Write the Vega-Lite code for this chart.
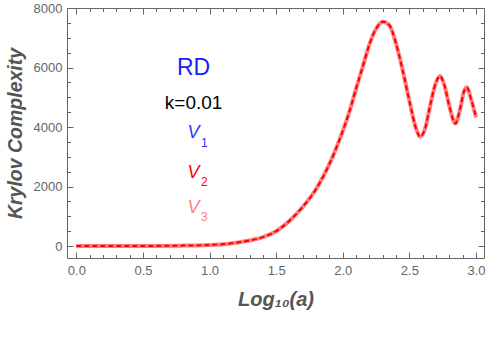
{
  "$schema": "https://vega.github.io/schema/vega-lite/v6.json",
  "width": 417,
  "height": 250,
  "autosize": {"type": "none"},
  "padding": {"left": 67, "top": 8, "right": 6, "bottom": 84},
  "config": {
    "view": {"stroke": "#666666", "strokeWidth": 1},
    "axis": {"domain": false, "grid": false, "labelFont": "Liberation Sans", "titleFont": "Liberation Sans", "tickColor": "#666666", "labelFlush": false, "labelOverlap": false}
  },
  "datasets": {
    "curve": [
      {"x": 0, "y": 0}, {"x": 0.2, "y": 1}, {"x": 0.4, "y": 3}, {"x": 0.6, "y": 7}, {"x": 0.8, "y": 16},
      {"x": 0.9, "y": 24}, {"x": 1.0, "y": 38}, {"x": 1.1, "y": 62}, {"x": 1.2, "y": 115}, {"x": 1.3, "y": 190},
      {"x": 1.4, "y": 300}, {"x": 1.5, "y": 500}, {"x": 1.6, "y": 850}, {"x": 1.7, "y": 1320}, {"x": 1.8, "y": 1920},
      {"x": 1.9, "y": 2760}, {"x": 2.0, "y": 3870}, {"x": 2.05, "y": 4520}, {"x": 2.1, "y": 5290}, {"x": 2.15, "y": 6030},
      {"x": 2.2, "y": 6780}, {"x": 2.25, "y": 7300}, {"x": 2.3, "y": 7540}, {"x": 2.35, "y": 7420}, {"x": 2.4, "y": 6800},
      {"x": 2.45, "y": 5900}, {"x": 2.5, "y": 4880}, {"x": 2.55, "y": 3950}, {"x": 2.58, "y": 3675}, {"x": 2.62, "y": 3980},
      {"x": 2.65, "y": 4600}, {"x": 2.7, "y": 5500}, {"x": 2.73, "y": 5714}, {"x": 2.76, "y": 5450}, {"x": 2.8, "y": 4700},
      {"x": 2.845, "y": 4120}, {"x": 2.88, "y": 4600}, {"x": 2.91, "y": 5200}, {"x": 2.93, "y": 5334}, {"x": 2.965, "y": 4908},
      {"x": 3.0, "y": 4326}
    ],
    "vlabels": [
      {"s": "V1", "x": 0.88, "y": 3800, "sub": "1", "xs": 0.935, "ys": 3480},
      {"s": "V2", "x": 0.88, "y": 2470, "sub": "2", "xs": 0.935, "ys": 2150},
      {"s": "V3", "x": 0.88, "y": 1290, "sub": "3", "xs": 0.935, "ys": 970}
    ]
  },
  "layer": [
    {
      "data": {"name": "curve"},
      "mark": {"type": "line", "color": "#2020ff", "strokeWidth": 2, "interpolate": "monotone"},
      "encoding": {
        "x": {"field": "x", "type": "quantitative", "scale": {"domain": [-0.07, 3.06], "nice": false, "zero": false},
          "axis": {"orient": "bottom", "values": [0, 0.1, 0.2, 0.3, 0.4, 0.5, 0.6, 0.7, 0.8, 0.9, 1, 1.1, 1.2, 1.3, 1.4, 1.5, 1.6, 1.7, 1.8, 1.9, 2, 2.1, 2.2, 2.3, 2.4, 2.5, 2.6, 2.7, 2.8, 2.9, 3],
            "labelExpr": "round(datum.value*10)%5==0 ? format(datum.value,'.1f') : ''",
            "tickSize": {"condition": {"test": "round(datum.value*10)%5==0", "value": -6}, "value": -3.5},
            "labelPadding": 12, "labelFontSize": 13, "labelColor": "#666666",
            "title": "Log₁₀(a)", "titleFontSize": 20, "titleFontStyle": "italic", "titleFontWeight": "bold", "titleColor": "#555555", "titlePadding": 10}},
        "y": {"field": "y", "type": "quantitative", "scale": {"domain": [-400, 8000], "nice": false, "zero": false},
          "axis": {"orient": "left", "values": [0, 500, 1000, 1500, 2000, 2500, 3000, 3500, 4000, 4500, 5000, 5500, 6000, 6500, 7000, 7500, 8000],
            "labelExpr": "datum.value%2000==0 ? format(datum.value,'d') : ''",
            "tickSize": {"condition": {"test": "datum.value%2000==0", "value": -6}, "value": -3.5},
            "labelPadding": 11, "labelFontSize": 13, "labelColor": "#666666",
            "title": "Krylov Complexity", "titleFontSize": 19.5, "titleFontStyle": "italic", "titleFontWeight": "bold", "titleColor": "#555555", "titlePadding": 8}}
      }
    },
    {
      "data": {"name": "curve"},
      "mark": {"type": "line", "color": "#ff7f7f", "strokeWidth": 4, "interpolate": "monotone"},
      "encoding": {
        "x": {"field": "x", "type": "quantitative", "scale": {"domain": [-0.07, 3.06], "nice": false, "zero": false},
          "axis": {"orient": "top", "values": [0, 0.1, 0.2, 0.3, 0.4, 0.5, 0.6, 0.7, 0.8, 0.9, 1, 1.1, 1.2, 1.3, 1.4, 1.5, 1.6, 1.7, 1.8, 1.9, 2, 2.1, 2.2, 2.3, 2.4, 2.5, 2.6, 2.7, 2.8, 2.9, 3],
            "labelExpr": "''",
            "tickSize": {"condition": {"test": "round(datum.value*10)%5==0", "value": -6}, "value": -3.5},
            "title": null}},
        "y": {"field": "y", "type": "quantitative", "scale": {"domain": [-400, 8000], "nice": false, "zero": false},
          "axis": {"orient": "right", "values": [0, 500, 1000, 1500, 2000, 2500, 3000, 3500, 4000, 4500, 5000, 5500, 6000, 6500, 7000, 7500, 8000],
            "labelExpr": "''",
            "tickSize": {"condition": {"test": "datum.value%2000==0", "value": -6}, "value": -3.5},
            "title": null}}
      }
    },
    {
      "data": {"name": "curve"},
      "mark": {"type": "line", "color": "#ff0000", "strokeWidth": 2, "strokeDash": [5, 3], "interpolate": "monotone"},
      "encoding": {
        "x": {"field": "x", "type": "quantitative", "scale": {"domain": [-0.07, 3.06], "nice": false, "zero": false}, "axis": null},
        "y": {"field": "y", "type": "quantitative", "scale": {"domain": [-400, 8000], "nice": false, "zero": false}, "axis": null}
      }
    },
    {
      "data": {"values": [{"t": "RD", "x": 0.88, "y": 5980}]},
      "mark": {"type": "text", "font": "Liberation Sans", "fontSize": 23, "color": "#1a1aff", "align": "center", "baseline": "middle"},
      "encoding": {
        "x": {"field": "x", "type": "quantitative", "scale": {"domain": [-0.07, 3.06], "nice": false, "zero": false}, "axis": null},
        "y": {"field": "y", "type": "quantitative", "scale": {"domain": [-400, 8000], "nice": false, "zero": false}, "axis": null},
        "text": {"field": "t"}
      }
    },
    {
      "data": {"values": [{"t": "k=0.01", "x": 0.88, "y": 4800}]},
      "mark": {"type": "text", "font": "Liberation Sans", "fontSize": 19, "color": "#000000", "align": "center", "baseline": "middle"},
      "encoding": {
        "x": {"field": "x", "type": "quantitative", "scale": {"domain": [-0.07, 3.06], "nice": false, "zero": false}, "axis": null},
        "y": {"field": "y", "type": "quantitative", "scale": {"domain": [-400, 8000], "nice": false, "zero": false}, "axis": null},
        "text": {"field": "t"}
      }
    },
    {
      "data": {"name": "vlabels"},
      "mark": {"type": "text", "font": "Liberation Sans", "fontSize": 18, "fontStyle": "italic", "align": "center", "baseline": "middle", "text": "V"},
      "encoding": {
        "x": {"field": "x", "type": "quantitative", "scale": {"domain": [-0.07, 3.06], "nice": false, "zero": false}, "axis": null},
        "y": {"field": "y", "type": "quantitative", "scale": {"domain": [-400, 8000], "nice": false, "zero": false}, "axis": null},
        "color": {"field": "s", "type": "nominal", "scale": {"domain": ["V1", "V2", "V3"], "range": ["#3030ff", "#ff0000", "#ff8080"]}, "legend": null}
      }
    },
    {
      "data": {"name": "vlabels"},
      "mark": {"type": "text", "font": "Liberation Sans", "fontSize": 12, "align": "left", "baseline": "middle"},
      "encoding": {
        "x": {"field": "xs", "type": "quantitative", "scale": {"domain": [-0.07, 3.06], "nice": false, "zero": false}, "axis": null},
        "y": {"field": "ys", "type": "quantitative", "scale": {"domain": [-400, 8000], "nice": false, "zero": false}, "axis": null},
        "text": {"field": "sub"},
        "color": {"field": "s", "type": "nominal", "scale": {"domain": ["V1", "V2", "V3"], "range": ["#3030ff", "#ff0000", "#ff8080"]}, "legend": null}
      }
    }
  ],
  "resolve": {"axis": {"x": "independent", "y": "independent"}}
}
